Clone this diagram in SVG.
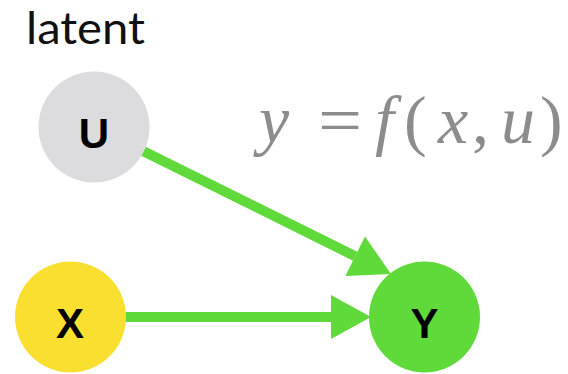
<svg xmlns="http://www.w3.org/2000/svg" width="568" height="374" viewBox="0 0 568 374">
<style>
.lbl{font-family:"Liberation Sans",Arial,sans-serif;font-weight:bold;font-size:42px;fill:#000;text-anchor:middle}
.edge{stroke:#60d93a;stroke-width:10;fill:none}
.math{font-family:"Liberation Serif","Times New Roman",serif;font-size:68px;fill:#8c8c8c}
.it{font-style:italic}
</style>
<defs>
<marker id="ah" markerUnits="userSpaceOnUse" markerWidth="42" markerHeight="44" refX="0" refY="22" orient="auto" overflow="visible">
<path d="M0,0 L40,22 L0,44 Z" fill="#60d93a"/>
</marker>
</defs>
<rect width="568" height="374" fill="#fff"/>
<text x="26" y="44" font-family="Lato,'Open Sans',sans-serif" font-size="45" fill="#111" textLength="119" lengthAdjust="spacingAndGlyphs">latent</text>
<g id="connectors">
<line class="edge" x1="143" y1="151" x2="355.2" y2="256.2" marker-end="url(#ah)"/>
<line class="edge" x1="120" y1="317" x2="331" y2="317" marker-end="url(#ah)"/>
</g>
<g id="U"><circle cx="94" cy="127" r="55.5" fill="#dcdcde"/><text class="lbl" x="94" y="148">U</text></g>
<g id="X"><circle cx="70.5" cy="317" r="55.5" fill="#f9e030"/><text class="lbl" x="70" y="338">X</text></g>
<g id="Y"><circle cx="424.5" cy="317" r="55.5" fill="#60d93a"/><text class="lbl" x="424.5" y="338">Y</text></g>
<g id="formula">
<text class="math" y="143"><tspan class="it" x="259">y</tspan><tspan class="it" x="375">f</tspan><tspan x="404">(</tspan><tspan class="it" x="438">x</tspan><tspan x="472">,</tspan><tspan class="it" x="501">u</tspan><tspan x="540">)</tspan></text>
<text class="math" transform="translate(340,143) scale(1.15,1)" text-anchor="middle">=</text>
</g>
</svg>
